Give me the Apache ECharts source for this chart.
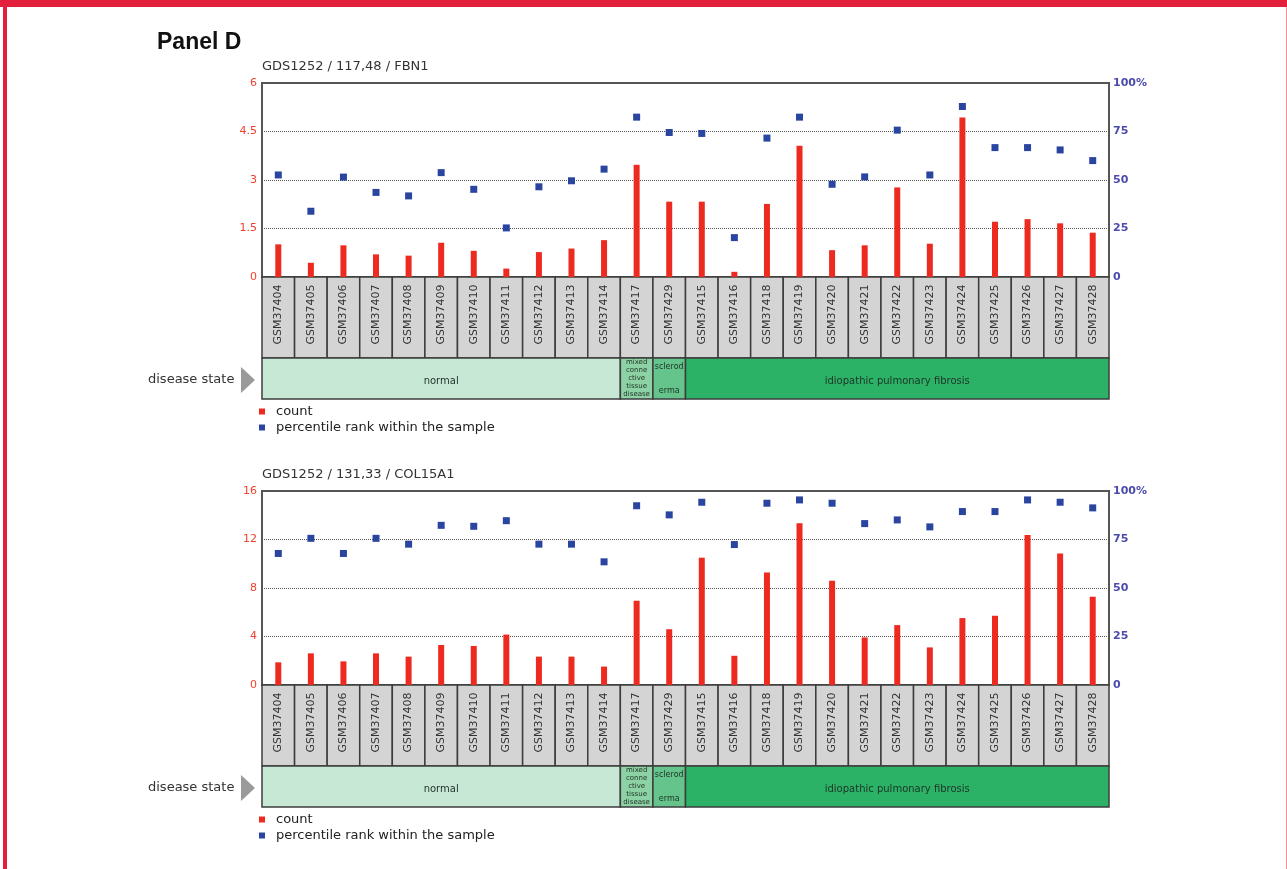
<!DOCTYPE html>
<html>
<head>
<meta charset="utf-8">
<title>Panel D</title>
<script src="https://cdn.jsdelivr.net/npm/echarts@6/dist/echarts.min.js"></script>
<style>
html, body { margin: 0; padding: 0; background: #fff; }
#chart { position: absolute; left: 0; top: 0; width: 1287px; height: 869px; }
#band { position: absolute; left: 0; top: 0; width: 1287px; height: 7px; background: #e3203b; }
#frame { position: absolute; left: 3px; top: 0; width: 1284px; height: 869px; box-sizing: border-box;
  border-left: 4px solid #e3203b; border-right: 1px solid #ef8d99; pointer-events: none; }
</style>
</head>
<body>
<div id="chart"></div>
<div id="frame"></div>
<div id="band"></div>
<script>
// samples, in the order they are drawn
var samples = ['GSM37404', 'GSM37405', 'GSM37406', 'GSM37407', 'GSM37408', 'GSM37409', 'GSM37410',
  'GSM37411', 'GSM37412', 'GSM37413', 'GSM37414', 'GSM37417', 'GSM37429', 'GSM37415', 'GSM37416',
  'GSM37418', 'GSM37419', 'GSM37420', 'GSM37421', 'GSM37422', 'GSM37423', 'GSM37424', 'GSM37425',
  'GSM37426', 'GSM37427', 'GSM37428']

// GDS1252 / 117,48 / FBN1
var fbn1Count = [1.01, 0.44, 0.98, 0.70, 0.66, 1.06, 0.81, 0.26, 0.77, 0.88, 1.14, 3.47, 2.33,
  2.33, 0.16, 2.26, 4.06, 0.83, 0.98, 2.77, 1.03, 4.93, 1.71, 1.79, 1.66, 1.37]
var fbn1Rank = [52.6, 33.9, 51.5, 43.6, 41.8, 53.8, 45.2, 25.3, 46.5, 49.6, 55.6, 82.4, 74.5,
  74.0, 20.3, 71.6, 82.4, 47.8, 51.6, 75.7, 52.6, 87.9, 66.7, 66.7, 65.5, 60.0]

// GDS1252 / 131,33 / COL15A1
var col15Count = [1.87, 2.61, 1.95, 2.61, 2.34, 3.30, 3.22, 4.16, 2.34, 2.34, 1.52, 6.95, 4.60,
  10.50, 2.41, 9.28, 13.35, 8.60, 3.92, 4.94, 3.10, 5.52, 5.71, 12.38, 10.85, 7.28]
var col15Rank = [67.8, 75.6, 67.8, 75.6, 72.6, 82.3, 81.8, 84.7, 72.6, 72.6, 63.5, 92.4, 87.7,
  94.2, 72.4, 93.7, 95.4, 93.7, 83.2, 85.1, 81.5, 89.4, 89.4, 95.4, 94.2, 91.3]

// disease state groups (first and last sample index)
var diseaseStart = [0, 11, 12, 13]
var diseaseEnd = [10, 11, 12, 25]
var diseaseText = ['normal', 'mixed\nconne\nctive\ntissue\ndisease', 'sclerod\n\nerma', 'idiopathic pulmonary fibrosis']
var diseaseColor = ['#c6e8d4', '#8dd2a5', '#64c48b', '#2bb267']
var diseaseFont = [10, 7, 8, 10]

var FONT = 'DejaVu Sans'
var chart = echarts.init(document.getElementById('chart'))

var grids = [], xAxes = [], yAxes = [], series = [], titles = [], legends = [], graphics = []

titles.push({
  text: 'Panel D', left: 157, top: 31, padding: 0,
  textStyle: { fontFamily: 'Liberation Sans', fontWeight: 'bold', fontSize: 23, color: '#111' }
})

function addPanel(p, top, name, counts, ranks, cMax, cStep) {
  var g = p * 3, y = p * 4
  grids.push({ left: 262, top: top, width: 847, height: 194, show: true, borderColor: '#555', borderWidth: 2 })
  grids.push({ left: 262, top: top + 194, width: 847, height: 81 })
  grids.push({ left: 262, top: top + 275, width: 847, height: 41 })
  for (var k = 0; k < 3; k++) {
    xAxes.push({ type: 'category', gridIndex: g + k, data: samples, show: false })
  }
  yAxes.push({
    type: 'value', gridIndex: g, min: 0, max: cMax, interval: cStep, position: 'left',
    axisLine: { show: false }, axisTick: { show: false },
    axisLabel: { color: '#f2402e', fontFamily: FONT, fontSize: 11, margin: 5 },
    splitLine: { lineStyle: { color: '#555', type: 'dotted', width: 1 } }
  })
  yAxes.push({
    type: 'value', gridIndex: g, min: 0, max: 100, interval: 25, position: 'right',
    axisLine: { show: false }, axisTick: { show: false }, splitLine: { show: false },
    axisLabel: {
      color: '#4b4bae', fontFamily: FONT, fontSize: 11, fontWeight: 'bold', margin: 4,
      formatter: function (v) { return v === 100 ? '100%' : v }
    }
  })
  yAxes.push({ type: 'value', gridIndex: g + 1, min: 0, max: 1, show: false })
  yAxes.push({ type: 'value', gridIndex: g + 2, min: 0, max: 1, show: false })

  titles.push({
    text: name, left: 262, top: top - 23, padding: 0,
    textStyle: { fontFamily: FONT, fontSize: 13, fontWeight: 'normal', color: '#333' }
  })

  series.push({
    type: 'bar', name: 'count', xAxisIndex: g, yAxisIndex: y, data: counts,
    barWidth: 6, itemStyle: { color: '#ec2a20' }, z: 3
  })
  series.push({
    type: 'scatter', name: 'percentile rank within the sample', xAxisIndex: g, yAxisIndex: y + 1,
    data: ranks, symbol: 'rect', symbolSize: 7, itemStyle: { color: '#2a45a0', opacity: 1 }, z: 4
  })

  // sample name boxes
  series.push({
    type: 'custom', xAxisIndex: g + 1, yAxisIndex: y + 2, silent: true,
    data: samples.map(function (s, i) { return [i, 0.5] }),
    renderItem: function (params, api) {
      var cs = params.coordSys
      var cx = api.coord([api.value(0), 0.5])[0]
      var w = api.size([1, 0])[0]
      return {
        type: 'group', children: [
          { type: 'rect', shape: { x: cx - w / 2, y: cs.y, width: w, height: cs.height },
            style: { fill: '#d4d4d4', stroke: '#3c3c3c', lineWidth: 1.5 } },
          { type: 'text', x: cx, y: cs.y + cs.height / 2 - 3, rotation: Math.PI / 2,
            style: { text: samples[params.dataIndex], align: 'center', verticalAlign: 'middle',
              fill: '#333', fontFamily: FONT, fontSize: 11 } }
        ]
      }
    }
  })

  // disease state bar
  series.push({
    type: 'custom', xAxisIndex: g + 2, yAxisIndex: y + 3, silent: true,
    encode: { x: [0, 1], y: 2 },
    data: diseaseStart.map(function (s, i) { return [s, diseaseEnd[i], 0.5] }),
    renderItem: function (params, api) {
      var cs = params.coordSys
      var w = api.size([1, 0])[0]
      var x0 = api.coord([api.value(0), 0.5])[0] - w / 2
      var x1 = api.coord([api.value(1), 0.5])[0] + w / 2
      var i = params.dataIndex
      return {
        type: 'group', children: [
          { type: 'rect', shape: { x: x0, y: cs.y, width: x1 - x0, height: cs.height },
            style: { fill: diseaseColor[i], stroke: '#3c3c3c', lineWidth: 1.5 } },
          { type: 'text', x: (x0 + x1) / 2, y: cs.y + cs.height / 2 + (i === 0 || i === 3 ? 3 : 0),
            style: { text: diseaseText[i], align: 'center', verticalAlign: 'middle',
              fill: '#1e3326', fontFamily: FONT, fontSize: diseaseFont[i],
              lineHeight: i === 1 ? 8 : 12 } }
        ]
      }
    }
  })

  legends.push({
    left: 259, top: top + 322, orient: 'vertical', padding: 0, itemGap: 3,
    itemWidth: 6, itemHeight: 6, icon: 'rect', selectedMode: false,
    data: ['count', 'percentile rank within the sample'],
    textStyle: { fontFamily: FONT, fontSize: 13, color: '#222', padding: [0, 0, 0, 6] }
  })

  graphics.push({ type: 'text', x: 148, y: top + 297, style: { text: 'disease state', fontFamily: FONT,
    fontSize: 13, fill: '#333', verticalAlign: 'middle' } })
  graphics.push({ type: 'polygon', shape: { points: [[241, top + 284], [255, top + 297], [241, top + 310]] },
    style: { fill: '#9a9a9a' } })
}

addPanel(0, 83, 'GDS1252 / 117,48 / FBN1', fbn1Count, fbn1Rank, 6, 1.5)
addPanel(1, 491, 'GDS1252 / 131,33 / COL15A1', col15Count, col15Rank, 16, 4)

chart.setOption({
  animation: false,
  backgroundColor: '#fff',
  title: titles,
  legend: legends,
  grid: grids,
  xAxis: xAxes,
  yAxis: yAxes,
  series: series,
  graphic: graphics
})
</script>
</body>
</html>
